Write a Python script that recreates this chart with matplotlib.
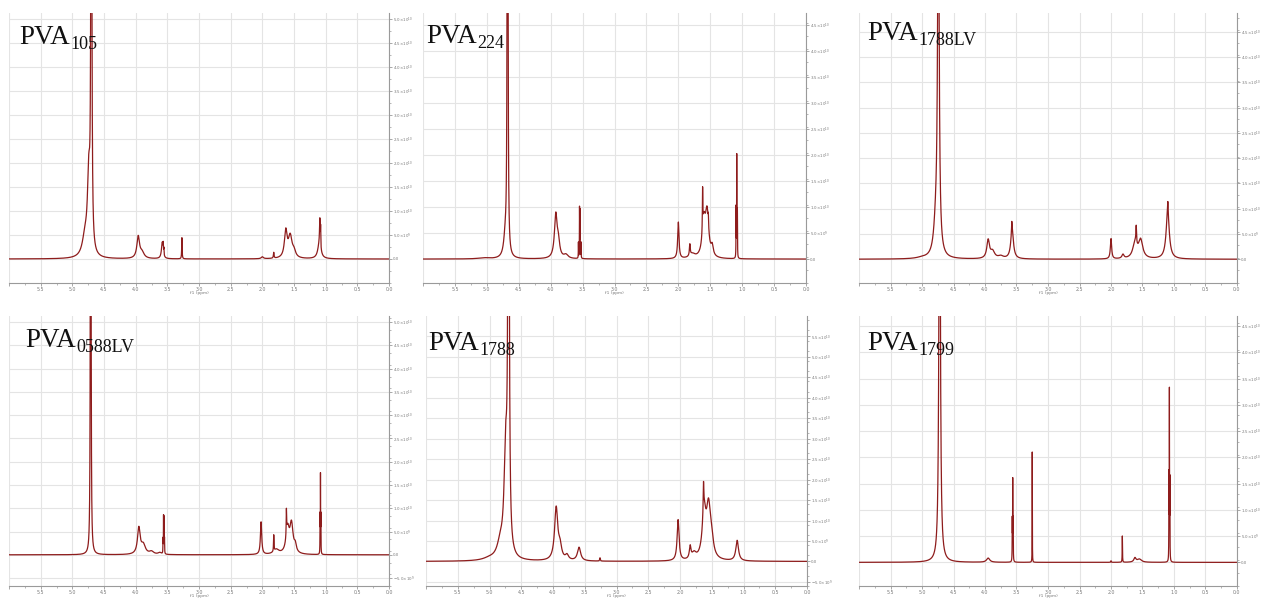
import numpy as np
import matplotlib
matplotlib.use("Agg")
import matplotlib.pyplot as plt
from matplotlib.ticker import MultipleLocator, FuncFormatter, FixedLocator

# Sample names (shown as PVA with subscript)
SAMPLES = ["105", "224", "1788LV", "0588LV", "1788", "1799"]

# Peak tables: chemical shift (ppm), amplitude (x1e10), half width (ppm)
PVA105_PPM = [4.700, 4.740, 4.800, 3.960, 3.900, 3.580, 3.565, 3.555, 3.270, 2.000, 1.820, 1.630, 1.560, 1.500, 1.100, 1.092, 1.080]
PVA105_AMP = [20.0, 1.60, 0.40, 0.45, 0.12, 0.34, 0.18, 0.14, 0.44, 0.04, 0.12, 0.55, 0.45, 0.12, 0.30, 0.55, 0.40]
PVA105_HW = [0.006, 0.025, 0.050, 0.025, 0.040, 0.015, 0.003, 0.003, 0.004, 0.020, 0.006, 0.025, 0.035, 0.030, 0.030, 0.006, 0.003]

PVA224_PPM = [4.675, 4.710, 5.050, 3.920, 3.880, 3.760, 3.548, 3.540, 3.565, 3.525, 2.000, 1.820, 1.780, 1.620, 1.600, 1.550, 1.530, 1.470, 1.085, 1.095, 1.075]
PVA224_AMP = [30.0, 0.40, 0.02, 0.82, 0.28, 0.07, 0.95, 0.90, 0.30, 0.30, 0.70, 0.22, 0.08, 0.80, 0.65, 0.82, 0.20, 0.18, 1.95, 0.95, 0.90]
PVA224_HW = [0.004, 0.030, 0.100, 0.025, 0.025, 0.040, 0.002, 0.002, 0.002, 0.002, 0.012, 0.008, 0.050, 0.004, 0.030, 0.030, 0.004, 0.020, 0.002, 0.002, 0.002]

PVA1788LV_PPM = [4.740, 4.780, 5.000, 3.950, 3.880, 3.750, 3.570, 3.575, 2.000, 1.810, 1.620, 1.600, 1.530, 1.100, 1.098]
PVA1788LV_AMP = [8.0, 0.60, 0.02, 0.36, 0.14, 0.05, 0.58, 0.18, 0.40, 0.08, 0.30, 0.34, 0.36, 0.92, 0.22]
PVA1788LV_HW = [0.014, 0.040, 0.100, 0.025, 0.040, 0.050, 0.025, 0.004, 0.012, 0.020, 0.040, 0.006, 0.040, 0.030, 0.005]

PVA0588LV_PPM = [4.710, 3.950, 3.880, 3.750, 3.620, 3.560, 3.552, 3.568, 3.545, 2.020, 1.820, 1.780, 1.620, 1.600, 1.540, 1.480, 1.082, 1.088, 1.076]
PVA0588LV_AMP = [40.0, 0.56, 0.20, 0.06, 0.04, 0.78, 0.75, 0.30, 0.30, 0.70, 0.35, 0.10, 0.55, 0.52, 0.62, 0.15, 1.60, 0.80, 0.80]
PVA0588LV_HW = [0.003, 0.025, 0.040, 0.040, 0.030, 0.002, 0.002, 0.002, 0.002, 0.012, 0.004, 0.050, 0.004, 0.030, 0.030, 0.020, 0.0015, 0.002, 0.002]

PVA1788_PPM = [4.700, 4.745, 4.830, 5.000, 3.950, 3.890, 3.780, 3.590, 3.260, 2.030, 1.840, 1.780, 1.630, 1.620, 1.550, 1.500, 1.100]
PVA1788_AMP = [20.0, 2.50, 0.35, 0.05, 1.28, 0.30, 0.12, 0.33, 0.08, 1.00, 0.30, 0.15, 0.70, 1.05, 1.25, 0.30, 0.50]
PVA1788_HW = [0.009, 0.030, 0.060, 0.120, 0.030, 0.030, 0.030, 0.030, 0.006, 0.018, 0.015, 0.040, 0.006, 0.035, 0.040, 0.030, 0.025]

PVA1799_PPM = [4.720, 3.950, 3.560, 3.553, 3.567, 3.250, 2.000, 1.820, 1.620, 1.550, 1.073, 1.080, 1.066]
PVA1799_AMP = [10.0, 0.08, 1.50, 0.75, 0.75, 2.10, 0.03, 0.50, 0.08, 0.06, 3.10, 1.60, 1.50]
PVA1799_HW = [0.012, 0.030, 0.002, 0.002, 0.002, 0.0015, 0.004, 0.0025, 0.020, 0.040, 0.0015, 0.002, 0.002]

PEAKS = [
    (PVA105_PPM, PVA105_AMP, PVA105_HW),
    (PVA224_PPM, PVA224_AMP, PVA224_HW),
    (PVA1788LV_PPM, PVA1788LV_AMP, PVA1788LV_HW),
    (PVA0588LV_PPM, PVA0588LV_AMP, PVA0588LV_HW),
    (PVA1788_PPM, PVA1788_AMP, PVA1788_HW),
    (PVA1799_PPM, PVA1799_AMP, PVA1799_HW),
]

# Intensity axis limits and tick ranges (x1e10)
Y_LIMITS = [(-0.50, 5.125), (-0.46, 4.73), (-0.47, 4.87), (-0.67, 5.13), (-0.60, 6.00), (-0.45, 4.69)]
Y_TICK_RANGE = [(0.0, 5.0), (0.0, 4.5), (0.0, 4.5), (-0.5, 5.0), (-0.5, 5.5), (0.0, 4.5)]

# Axes boxes in pixels: left, right, top, bottom
W, H = 1262, 599
BOXES = [
    (9, 389, 13, 283), (423, 806, 13, 283), (859, 1237, 13, 283),
    (9, 389, 316, 586), (426, 807, 316, 586), (859, 1237, 316, 586),
]
LABEL_POS = [(19, 44), (426, 43), (867, 40), (25, 347), (428, 350), (867, 350)]

LINE = "#8e1c1c"
GRID = "#e4e4e4"
AXC = "#9a9a9a"
SERIF = ["Liberation Serif", "DejaVu Serif"]


def spectrum(ppm, amp, hw, x):
    y = np.zeros_like(x)
    for p, a, w in zip(ppm, amp, hw):
        y += a * w ** 2 / ((x - p) ** 2 + w ** 2)
    return y * 1e10


def sci(v, pos=None):
    if abs(v) < 1:
        return "0.0"
    e = int(np.floor(np.log10(abs(v))))
    m = v / 10 ** e
    return r"$%.1f{\times}10^{%d}$" % (m, e)


def ppm_label(v, pos=None):
    return "" if v > 5.9 else "%.1f" % abs(v)


fig = plt.figure(figsize=(W / 100, H / 100), dpi=100)
x = np.linspace(6.0, 0.0, 24001)

for i, (pk, ylim, yr, box) in enumerate(zip(PEAKS, Y_LIMITS, Y_TICK_RANGE, BOXES)):
    l, r, t, b = box
    ax = fig.add_axes([l / W, 1 - b / H, (r - l) / W, (b - t) / H])
    y = spectrum(*pk, x)
    ax.plot(x, y, color=LINE, lw=0.9)
    ax.set_xlim(6.0, 0.0)
    ax.set_ylim(ylim[0] * 1e10, ylim[1] * 1e10)

    ax.xaxis.set_major_locator(MultipleLocator(0.5))
    ax.xaxis.set_minor_locator(MultipleLocator(0.25))
    ax.xaxis.set_major_formatter(FuncFormatter(ppm_label))
    yt = np.arange(yr[0], yr[1] + 0.01, 0.5) * 1e10
    ax.yaxis.set_major_locator(FixedLocator(yt))
    ax.yaxis.set_minor_locator(FixedLocator(np.arange(ylim[0], ylim[1], 0.25) * 1e10))
    ax.yaxis.set_major_formatter(FuncFormatter(sci))
    ax.yaxis.tick_right()

    ax.grid(True, which="major", color=GRID, lw=0.8)
    ax.set_axisbelow(True)
    for s in ("left", "top"):
        ax.spines[s].set_visible(False)
    for s in ("right", "bottom"):
        ax.spines[s].set_color(AXC)
        ax.spines[s].set_linewidth(0.8)
    ax.tick_params(which="major", length=2.0, width=0.6, color=AXC, labelsize=3.4,
                   labelcolor="#7a7a7a", pad=1.0)
    ax.tick_params(axis="y", which="major", labelsize=2.9, pad=1.0)
    ax.tick_params(which="minor", length=1.3, width=0.5, color=AXC)
    ax.set_xlabel("f1 (ppm)", fontsize=3.2, color="#7a7a7a", labelpad=-0.5)

fig.canvas.draw()
renderer = fig.canvas.get_renderer()
for i, (lx, ly) in enumerate(LABEL_POS):
    main = fig.text(lx / W, 1 - ly / H, "PVA", family=SERIF, fontsize=19.5,
                    ha="left", va="baseline", color="#111111")
    bb = main.get_window_extent(renderer)
    fig.text(bb.x1 / W + 0.5 / W, 1 - (ly + 5) / H, SAMPLES[i], family=SERIF,
             fontsize=13, ha="left", va="baseline", color="#111111")

fig.savefig("out.png", dpi=100, facecolor="white")
